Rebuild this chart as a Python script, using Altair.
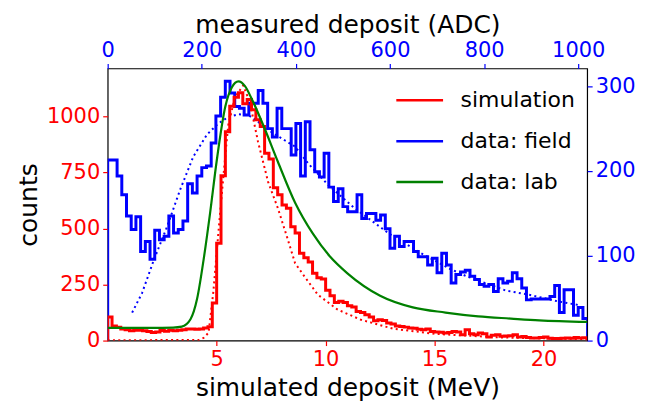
import altair as alt
import pandas as pd

# ---------------- data ----------------
series_names = ["simulation", "data: field", "data: lab"]
series_colors = ["#ff0000", "#0000ff", "#008000"]

# simulation histogram, bins of 0.2 MeV starting at 0
sim_bin_width = 0.2
sim_counts = [105, 65, 60, 52, 48, 44, 46, 46, 44, 40,
              36, 38, 45, 42, 46, 44, 46, 48, 52, 52,
              50, 52, 56, 62, 168, 434, 735, 932, 1045, 1085,
              1105, 1057, 1075, 1030, 985, 955, 836, 810, 682, 650,
              605, 590, 508, 480, 390, 370, 350, 300, 280, 275,
              225, 200, 170, 175, 170, 155, 150, 130, 125, 115,
              105, 88, 93, 90, 78, 74, 65, 63, 60, 56,
              55, 50, 48, 52, 40, 38, 37, 34, 36, 41,
              38, 26, 48, 30, 26, 34, 30, 16, 24, 26,
              19, 20, 22, 26, 16, 18, 14, 12, 12, 14,
              16, 10, 9, 9, 10, 12, 10, 14, 12, 13]

# field data histogram, bins of 10 ADC starting at 0
field_bin_width = 10
field_counts = [213, 213, 194, 172, 147, 131, 146, 105, 117, 96,
                130, 119, 123, 147, 127, 131, 141, 185, 174, 194,
                204, 206, 233, 265, 287, 306, 292, 276, 274, 266,
                280, 280, 295, 280, 250, 240, 274, 250, 250, 219,
                256, 194, 258, 225, 199, 193, 221, 181, 164, 179,
                158, 152, 152, 172, 144, 150, 150, 142, 148, 132,
                109, 123, 111, 117, 117, 105, 99, 99, 89, 97,
                80, 103, 89, 68, 78, 81, 83, 76, 72, 66,
                64, 66, 58, 73, 68, 70, 80, 73, 62, 48,
                49, 49, 49, 49, 52, 65, 33, 60, 60, 30,
                39, 26]

# lab data curve (MeV, counts)
lab_mev = [0, 1, 2, 3, 3.4, 3.8, 4.1, 4.4, 4.7, 5.0, 5.4, 5.7, 6.0, 6.3, 6.6,
           7.2, 7.8, 8.6, 9.4, 10.2, 11.0, 12.5, 14.0, 15.5, 17.0, 18.5, 19.8, 22.0]
lab_counts = [57, 57, 57, 58, 62, 95, 185, 360, 570, 800, 1045, 1130, 1156, 1135, 1080,
              946, 800, 615, 479, 375, 300, 200, 148, 125, 108, 98, 90, 83]

# simulation fit (dotted red), MeV vs counts
sim_fit_mev = [0, 2, 4.2, 4.4, 4.63, 4.85, 5.07, 5.3, 5.53, 5.84, 6.22, 6.52, 6.9,
               7.36, 7.81, 8.2, 8.6, 9.03, 9.64, 10.55, 11.62, 12.68, 13.1, 15, 18, 22]
sim_fit_counts = [2, 2, 3, 12, 35, 219, 471, 723, 960, 1086, 1138, 1064, 886,
                  708, 590, 471, 345, 286, 205, 138, 93, 64, 53, 30, 14, 6]

# field fit (dotted blue), ADC vs counts
field_fit_adc = [52, 73, 98, 126, 154, 182, 211, 235, 257, 278, 299, 320, 348, 377,
                 398, 426, 468, 525, 596, 666, 726, 762, 846, 896, 959, 1000]
field_fit_counts = [33, 56, 95, 134, 178, 217, 243, 256, 264, 267, 266, 258, 246, 236,
                    229, 209, 184, 156, 127, 103, 85, 76, 59, 54, 46, 42]


def step_table(width, counts, xname, yname):
    n = len(counts)
    xs = [0.0] + [i * width for i in range(n)] + [n * width, n * width]
    ys = [0] + list(counts) + [counts[-1], 0]
    return pd.DataFrame({xname: xs, yname: ys, "idx": list(range(len(xs)))})


sim_df = step_table(sim_bin_width, sim_counts, "mev", "count")
sim_df["series"] = series_names[0]
field_df = step_table(field_bin_width, field_counts, "adc", "rate")
field_df["series"] = series_names[1]
lab_df = pd.DataFrame({"mev": lab_mev, "count": lab_counts, "series": series_names[2]})
sim_fit_df = pd.DataFrame({"mev": sim_fit_mev, "count": sim_fit_counts})
field_fit_df = pd.DataFrame({"adc": field_fit_adc, "rate": field_fit_counts})

# ---------------- scales & axes ----------------
x_mev = alt.Scale(domain=[0, 22], nice=False, zero=False)
y_cnt = alt.Scale(domain=[0, 1214], nice=False)
x_adc = alt.Scale(domain=[0, 1019], nice=False, zero=False)
y_rate = alt.Scale(domain=[0, 321], nice=False)

ax_bottom = alt.Axis(orient="bottom", title="simulated deposit (MeV)", values=[5, 10, 15, 20],
                     labelColor="#ff0000", tickColor="#ff0000", format="d", labelFlush=False,
                     titlePadding=6)
ax_left = alt.Axis(orient="left", title="counts", values=[0, 250, 500, 750, 1000],
                   labelColor="#ff0000", tickColor="#ff0000", format="d", labelFlush=False,
                   titlePadding=5)
ax_top = alt.Axis(orient="top", title="measured deposit (ADC)", values=[0, 200, 400, 600, 800, 1000],
                  labelColor="#0000ff", tickColor="#0000ff", format="d", labelFlush=False)
ax_right = alt.Axis(orient="right", title=None, values=[0, 100, 200, 300],
                    labelColor="#0000ff", tickColor="#0000ff", format="d", labelFlush=False)

color = alt.Color("series:N",
                  scale=alt.Scale(domain=series_names, range=series_colors),
                  sort=series_names,
                  legend=alt.Legend(title=None, orient="none", legendX=288, legendY=7,
                                    symbolType="stroke", symbolSize=2200, symbolStrokeWidth=2.5,
                                    labelFontSize=22, labelOffset=16, rowPadding=5,
                                    labelFont="DejaVu Sans", labelColor="black"))

# ---------------- field (top / right axes) ----------------
field_step = alt.Chart(field_df).mark_line(interpolate="step-after", strokeWidth=3, clip=True).encode(
    x=alt.X("adc:Q", scale=x_adc, axis=ax_top),
    y=alt.Y("rate:Q", scale=y_rate, axis=ax_right),
    order="idx:Q",
    color=color,
)
field_fit = alt.Chart(field_fit_df).mark_line(color="#0000ff", strokeWidth=2, strokeDash=[2, 3.3], clip=True).encode(
    x=alt.X("adc:Q", scale=x_adc, axis=ax_top),
    y=alt.Y("rate:Q", scale=y_rate, axis=ax_right),
)
group_field = alt.layer(field_step, field_fit)

# ---------------- simulation + lab (bottom / left axes) ----------------
sim_step = alt.Chart(sim_df).mark_line(interpolate="step-after", strokeWidth=3, clip=True).encode(
    x=alt.X("mev:Q", scale=x_mev, axis=ax_bottom),
    y=alt.Y("count:Q", scale=y_cnt, axis=ax_left),
    order="idx:Q",
    color=color,
)
sim_fit = alt.Chart(sim_fit_df).mark_line(color="#ff0000", strokeWidth=2, strokeDash=[2, 3.3], clip=True).encode(
    x=alt.X("mev:Q", scale=x_mev, axis=ax_bottom),
    y=alt.Y("count:Q", scale=y_cnt, axis=ax_left),
)
lab_line = alt.Chart(lab_df).mark_line(strokeWidth=2.2, interpolate="monotone", clip=True).encode(
    x=alt.X("mev:Q", scale=x_mev, axis=ax_bottom),
    y=alt.Y("count:Q", scale=y_cnt, axis=ax_left),
    color=color,
)
group_sim = alt.layer(sim_step, sim_fit, lab_line)

chart = alt.layer(group_field, group_sim).resolve_scale(
    x="independent", y="independent", color="shared"
).properties(
    width=481, height=273,
    autosize=alt.AutoSizeParams(type="none"),
    padding={"left": 100, "top": 60, "right": 50, "bottom": 62},
).configure_view(
    stroke="black", strokeWidth=1.2
).configure_axis(
    labelFont="DejaVu Sans", titleFont="DejaVu Sans",
    labelFontSize=21, titleFontSize=25, titleFontWeight="normal", titleColor="black",
    tickSize=5, tickWidth=1.2, labelPadding=3, titlePadding=2,
    grid=False, domain=False,
)

chart.save("out.html", embed_options={"renderer": "svg", "actions": False})
